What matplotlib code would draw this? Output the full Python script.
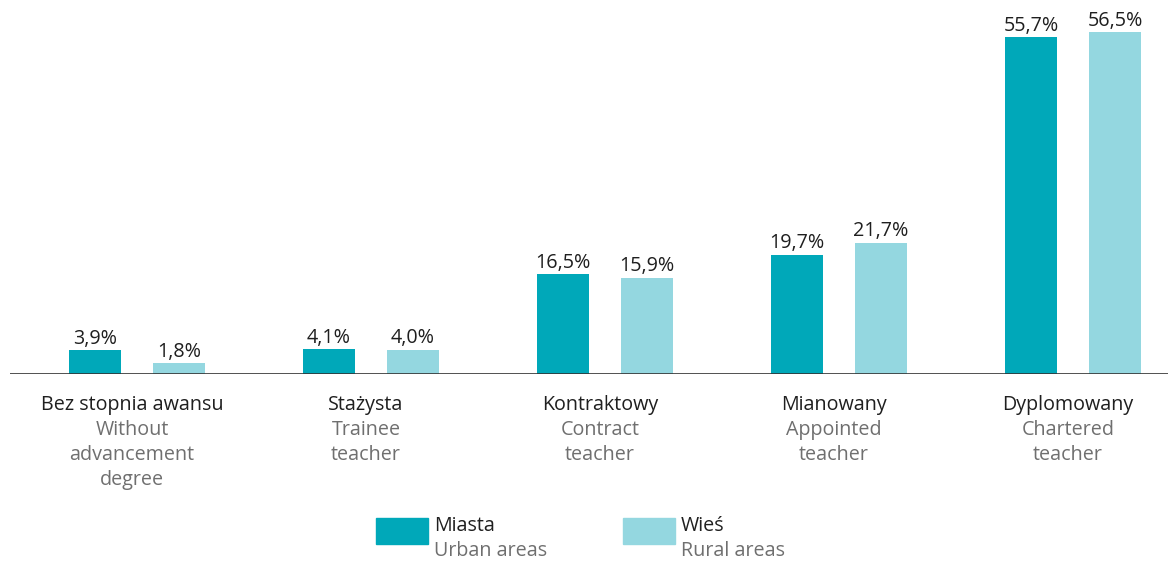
import matplotlib
matplotlib.use("Agg")
import matplotlib.pyplot as plt
from matplotlib.patches import Rectangle

plt.rcParams['font.family'] = ['Open Sans', 'DejaVu Sans']

categories_pl = ["Bez stopnia awansu", "Stażysta", "Kontraktowy", "Mianowany", "Dyplomowany"]
categories_en = [["Without", "advancement", "degree"], ["Trainee", "teacher"],
                 ["Contract", "teacher"], ["Appointed", "teacher"], ["Chartered", "teacher"]]
urban = [3.9, 4.1, 16.5, 19.7, 55.7]
rural = [1.8, 4.0, 15.9, 21.7, 56.5]
series_pl = ["Miasta", "Wieś"]
series_en = ["Urban areas", "Rural areas"]

C_URBAN = "#00A8B9"
C_RURAL = "#94D7E0"
C_DARK = "#1f1f1f"
C_GREY = "#6f6f6f"
FS = 14.2

W, H = 1168, 562
fig = plt.figure(figsize=(W / 100, H / 100), dpi=100)
base_px = 374
ax = fig.add_axes([10 / W, (H - base_px) / H, 1 - 10 / W, base_px / H])
ax.set_xlim(10, W)
ax.set_ylim(0, base_px / 6.05)
ax.axis("off")

centers = [137 + 234 * i for i in range(len(categories_pl))]
off, bw = 42, 52
xu = [c - off for c in centers]
xr = [c + off for c in centers]
bu = ax.bar(xu, urban, width=bw, color=C_URBAN)
br = ax.bar(xr, rural, width=bw, color=C_RURAL)
ax.axhline(0, color="#333333", lw=1.2)

for bars, vals in ((bu, urban), (br, rural)):
    for b, v in zip(bars, vals):
        ax.annotate(f"{v:.1f}%".replace(".", ","), (b.get_x() + b.get_width() / 2, v),
                    xytext=(0, 1), textcoords="offset points", ha="center", va="bottom",
                    fontsize=FS, color=C_DARK)

def fy(px):
    return 1 - px / H

for c, pl, en in zip(centers, categories_pl, categories_en):
    lx = c - 5
    fig.text(lx / W, fy(405), pl, ha="center", va="center", fontsize=FS, color=C_DARK)
    for k, line in enumerate(en):
        fig.text(lx / W, fy(430 + 25 * k), line, ha="center", va="center", fontsize=FS, color=C_GREY)

# legend
for x0, col, pl, en in ((376, C_URBAN, series_pl[0], series_en[0]),
                        (623, C_RURAL, series_pl[1], series_en[1])):
    fig.patches.append(Rectangle((x0 / W, fy(544)), 52 / W, 26 / H, transform=fig.transFigure,
                                 color=col, figure=fig))
    fig.text((x0 + 58) / W, fy(526), pl, ha="left", va="center", fontsize=FS, color=C_DARK)
    fig.text((x0 + 58) / W, fy(551), en, ha="left", va="center", fontsize=FS, color=C_GREY)

fig.savefig("out.png", dpi=100)
